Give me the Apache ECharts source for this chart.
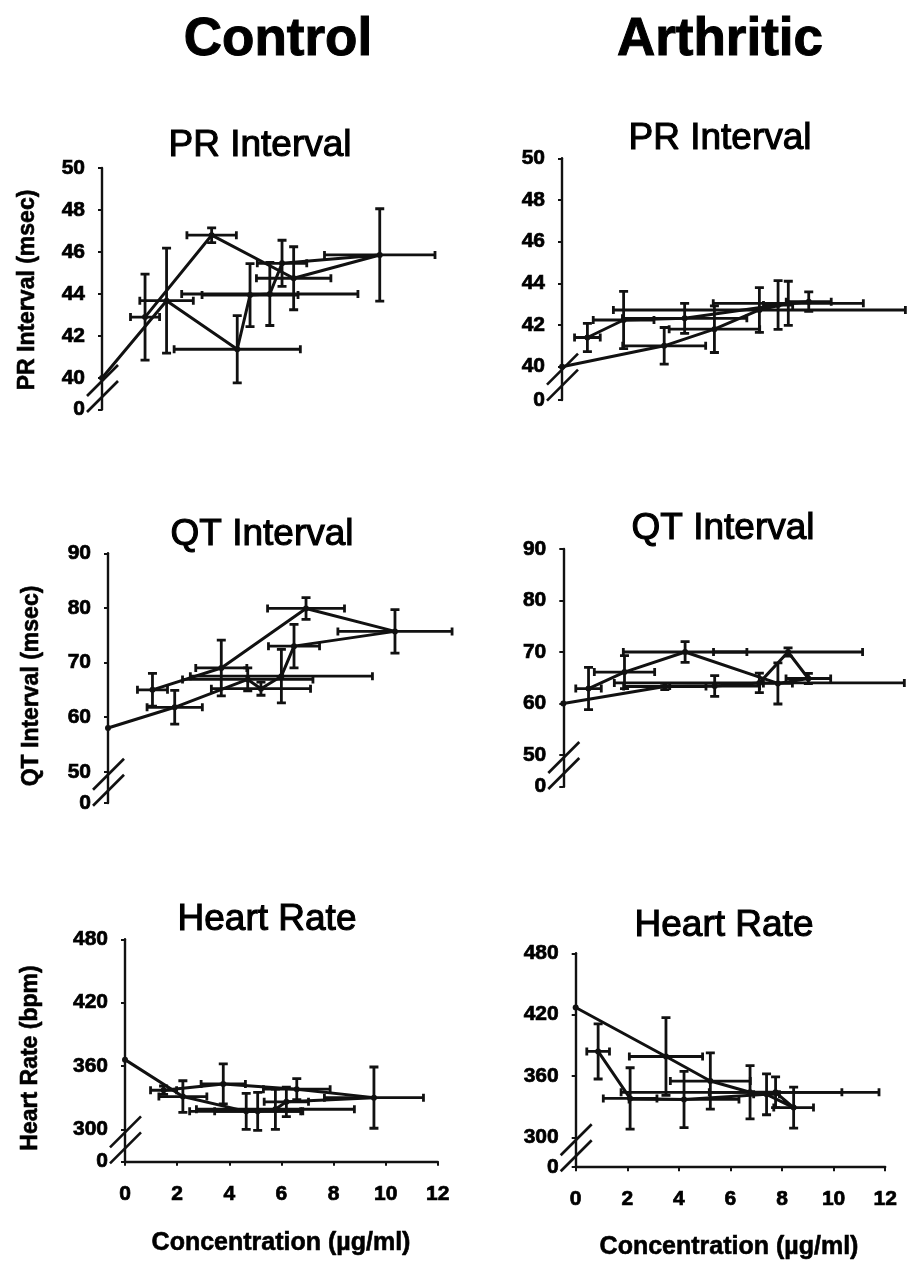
<!DOCTYPE html>
<html>
<head>
<meta charset="utf-8">
<script src="https://cdn.jsdelivr.net/npm/echarts@6/dist/echarts.min.js"></script>
<style>
  html, body { margin: 0; padding: 0; background: #fff; }
  #chart { width: 910px; height: 1263px; }
</style>
</head>
<body>
<div id="chart"></div>
<script>
// Plasma concentration (µg/ml) in sampling order, with SEM
const controlConc    = [0, 2.22, 4.65, 5.09, 5.77, 6.19, 9.55, 6.59, 3.77, 1.48];
const controlConcErr = [0, 0.92, 2.17, 1.65, 3.03, 0.85, 1.90, 1.28, 0.85, 0.50];
const arthConc       = [0, 3.50, 5.22, 6.76, 7.75, 8.45, 7.40, 4.20, 2.11, 0.87];
const arthConcErr    = [0, 1.42, 1.55, 5.00, 2.57, 0.77, 0.50, 2.13, 1.04, 0.44];

// PR interval (msec)
const controlPR    = [40, 43.68, 41.37, 43.95, 44.0, 45.46, 45.86, 44.75, 46.8, 42.9];
const controlPRErr = [0, 2.5, 1.6, 1.5, 1.5, 1.1, 2.2, 1.5, 0.35, 2.05];
const arthPR       = [40, 41.0, 41.8, 42.72, 43.04, 43.12, 42.96, 42.32, 42.24, 41.4];
const arthPRErr    = [0, 0.88, 1.12, 1.07, 1.06, 0.47, 1.17, 0.72, 1.37, 0.68];

// QT interval (msec)
const controlQT    = [58, 61.8, 66.9, 65.2, 67.5, 73.0, 75.7, 79.9, 69.0, 65.0];
const controlQTErr = [0, 3.1, 2.1, 1.2, 4.9, 4.0, 4.0, 2.0, 5.1, 3.0];
const arthQT       = [60, 63.3, 63.4, 64.0, 70.0, 64.85, 63.9, 70.0, 66.1, 62.9];
const arthQTErr    = [0, 0.6, 2.0, 1.9, 0.8, 1.0, 4.0, 2.0, 3.2, 4.1];

// Heart rate (bpm)
const controlHR    = [366, 331, 317, 317, 319, 326, 330, 338, 343, 337];
const controlHRErr = [0, 15, 17, 18, 19, 14, 29, 10, 19, 4];
const arthHR       = [427, 379, 355, 344, 344, 329, 342, 337, 338, 384];
const arthHRErr    = [0, 38, 27.5, 26, 15, 20, 20, 27.5, 30, 27];

// Axis tick values
const prTicks = [40, 42, 44, 46, 48, 50];
const qtTicks = [50, 60, 70, 80, 90];
const hrTicks = [300, 360, 420, 480];
const concTicks = [0, 2, 4, 6, 8, 10, 12];

const INK = '#111';
const TITLE_FONT = '"Liberation Sans", Arial, sans-serif';

// floor = value at the bottom of the broken axis (labelled 0)
const panels = [
  { title: 'PR Interval', tx: 260, ty: 146, left: 102, top: 168, width: 349, height: 241.5, floor: 38.5,
    ticks: prTicks, x: controlConc, xe: controlConcErr, y: controlPR, ye: controlPRErr,
    yName: 'PR Interval (msec)', nx: 28, ny: 290, showX: false },
  { title: 'PR Interval', tx: 720, ty: 139, left: 562, top: 158.3, width: 350.4, height: 241.7, floor: 38.4,
    ticks: prTicks, x: arthConc, xe: arthConcErr, y: arthPR, ye: arthPRErr, showX: false },
  { title: 'QT Interval', tx: 262, ty: 535, left: 108, top: 553.3, width: 360.6, height: 249.7, floor: 44.27,
    ticks: qtTicks, x: controlConc, xe: controlConcErr, y: controlQT, ye: controlQTErr,
    yName: 'QT Interval (msec)', nx: 32, ny: 686, showX: false },
  { title: 'QT Interval', tx: 723, ty: 529, left: 563.3, top: 549, width: 348, height: 237.7, floor: 43.84,
    ticks: qtTicks, x: arthConc, xe: arthConcErr, y: arthQT, ye: arthQTErr, showX: false },
  { title: 'Heart Rate', tx: 267, ty: 920, left: 125, top: 939.3, width: 312.8, height: 222.4, floor: 269.3,
    ticks: hrTicks, x: controlConc, xe: controlConcErr, y: controlHR, ye: controlHRErr,
    yName: 'Heart Rate (bpm)', nx: 31, ny: 1058, showX: true, xName: 'Concentration (µg/ml)', xnx: 281, xny: 1243 },
  { title: 'Heart Rate', tx: 724, ty: 926, left: 575.7, top: 953.3, width: 309.5, height: 213.9, floor: 270.7,
    ticks: hrTicks, x: arthConc, xe: arthConcErr, y: arthHR, ye: arthHRErr,
    showX: true, xName: 'Concentration (µg/ml)', xnx: 729, xny: 1247 }
];

const labelStyle = {
  color: '#000', fontFamily: TITLE_FONT, fontWeight: 'bold', fontSize: 21,
  textBorderColor: '#000', textBorderWidth: 0.7
};

const grids = [], xAxes = [], yAxes = [], series = [], graphics = [];

function textEl(text, x, y, size, weight, rotation, border) {
  return {
    type: 'text', x: x, y: y, rotation: rotation || 0, silent: true,
    style: {
      text: text, fill: '#000', fontFamily: TITLE_FONT, fontSize: size, fontWeight: weight,
      stroke: '#000', lineWidth: border || 0,
      align: 'center', verticalAlign: 'middle', textAlign: 'center', textVerticalAlign: 'middle'
    }
  };
}

panels.forEach((p, i) => {
  grids.push({ left: p.left, top: p.top, width: p.width, height: p.height,
               containLabel: false, outerBoundsMode: 'none' });

  xAxes.push(p.showX ? {
    type: 'value', gridIndex: i, min: 0, max: 12, interval: 2,
    axisLine: { show: true, onZero: false, lineStyle: { color: INK, width: 2.4 } },
    axisTick: { show: true, length: 4, customValues: concTicks, lineStyle: { color: INK, width: 2 } },
    axisLabel: Object.assign({ margin: 22, customValues: concTicks }, labelStyle),
    splitLine: { show: false }
  } : { type: 'value', gridIndex: i, min: 0, max: 12, show: false });

  const yVals = [p.floor].concat(p.ticks);
  yAxes.push({
    type: 'value', gridIndex: i, min: p.floor, max: p.ticks[p.ticks.length - 1],
    axisLine: { show: true, onZero: false, lineStyle: { color: INK, width: 2.4 } },
    axisTick: { show: true, length: 4, customValues: yVals, lineStyle: { color: INK, width: 2 } },
    axisLabel: Object.assign({
      margin: 17, customValues: yVals,
      formatter: v => (Math.abs(v - p.floor) < 1e-6 ? '0' : String(v))
    }, labelStyle),
    splitLine: { show: false }
  });

  // error bars (both directions, capped)
  series.push({
    type: 'custom', xAxisIndex: i, yAxisIndex: i, clip: true, silent: true, z: 3,
    data: p.x.map((c, k) => [c, p.y[k], p.xe[k], p.ye[k]]),
    renderItem(params, api) {
      const cx = api.value(0), cy = api.value(1), dx = api.value(2), dy = api.value(3);
      const st = { stroke: INK, lineWidth: 2.8 };
      const kids = [];
      const seg = (x1, y1, x2, y2) => kids.push({ type: 'line', shape: { x1, y1, x2, y2 }, style: st });
      if (dy > 0) {
        const a = api.coord([cx, cy + dy]), b = api.coord([cx, cy - dy]);
        seg(a[0], a[1], b[0], b[1]);
        seg(a[0] - 4.5, a[1], a[0] + 4.5, a[1]);
        seg(b[0] - 4.5, b[1], b[0] + 4.5, b[1]);
      }
      if (dx > 0) {
        const a = api.coord([cx - dx, cy]), b = api.coord([cx + dx, cy]);
        seg(a[0], a[1], b[0], b[1]);
        seg(a[0], a[1] - 4, a[0], a[1] + 4);
        seg(b[0], b[1] - 4, b[0], b[1] + 4);
      }
      return { type: 'group', children: kids };
    }
  });

  // time course connecting the means
  series.push({
    type: 'line', xAxisIndex: i, yAxisIndex: i, z: 4,
    data: p.x.map((c, k) => [c, p.y[k]]),
    symbol: 'circle', symbolSize: 6, showSymbol: true,
    itemStyle: { color: INK },
    lineStyle: { color: INK, width: 3 },
    silent: true
  });

  // "//" axis break between 0 and the first real tick
  series.push({
    type: 'custom', xAxisIndex: i, yAxisIndex: i, clip: false, silent: true, z: 5,
    data: [[0, p.ticks[0]]],
    renderItem(params, api) {
      const o = api.coord([api.value(0), api.value(1)]);
      const st = { stroke: INK, lineWidth: 2.6 };
      return {
        type: 'group',
        children: [3, 19].map(off => ({
          type: 'line',
          shape: { x1: o[0] - 15, y1: o[1] + off + 15, x2: o[0] + 16, y2: o[1] + off - 16 },
          style: st
        }))
      };
    }
  });

  graphics.push(textEl(p.title, p.tx, p.ty, 37, 'normal', 0, 1.1));
  if (p.yName) graphics.push(textEl(p.yName, p.nx, p.ny, 23, 'bold', Math.PI / 2, 0.6));
  if (p.xName) graphics.push(textEl(p.xName, p.xnx, p.xny, 25, 'bold', 0, 0.6));
});

graphics.push(textEl('Control', 278, 40, 53, 'bold', 0, 1));
graphics.push(textEl('Arthritic', 720, 40, 53, 'bold', 0, 1));

const chart = echarts.init(document.getElementById('chart'), null, { renderer: 'canvas' });
chart.setOption({
  backgroundColor: '#fff',
  animation: false,
  grid: grids,
  xAxis: xAxes,
  yAxis: yAxes,
  series: series,
  graphic: { elements: graphics }
});
</script>
</body>
</html>
